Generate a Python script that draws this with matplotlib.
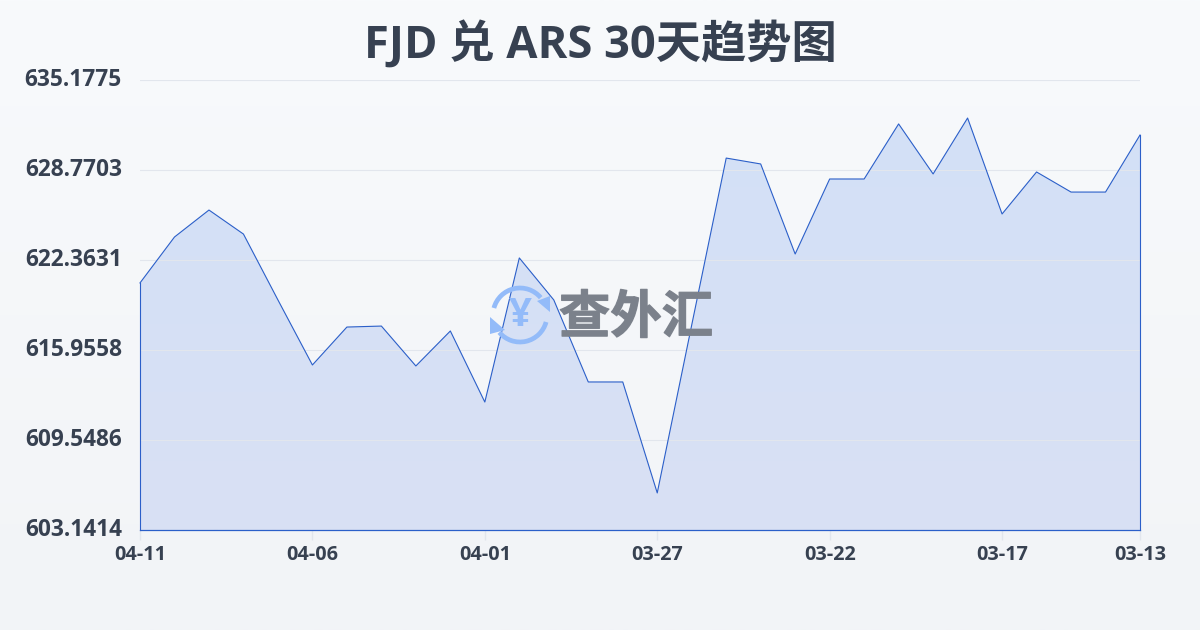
import numpy as np
import matplotlib
matplotlib.use("Agg")
import matplotlib.pyplot as plt
import matplotlib.patheffects as pe
from matplotlib.patches import Arc, Polygon

plt.rcParams['font.family'] = ['Open Sans', 'Noto Sans CJK SC', 'DejaVu Sans']

TITLE = "FJD 兑 ARS 30天趋势图"
dates = ['04-11', '04-06', '04-01', '03-27', '03-22', '03-17', '03-13']
date_pos = [0, 5, 10, 15, 20, 25, 29]
y_ticks = [603.1414, 609.5486, 615.9558, 622.3631, 628.7703, 635.1775]
rates = [620.73, 624.00, 625.92, 624.21, 619.52, 614.89, 617.59, 617.66, 614.82, 617.31,
         612.25, 622.51, 619.52, 613.68, 613.68, 605.78, 617.74, 629.62, 629.20, 622.79,
         628.13, 628.13, 632.05, 628.49, 632.47, 625.64, 628.63, 627.20, 627.20, 631.26]

W, H = 1200, 630
TEXT = '#374151'
LINE = '#2b5fc9'
GRID = '#e2e6ed'

fig = plt.figure(figsize=(W / 100, H / 100), dpi=100)

# page background gradient
bg = fig.add_axes([0, 0, 1, 1], zorder=0)
bg.imshow(np.linspace(0, 1, 256).reshape(-1, 1), aspect='auto', extent=[0, 1, 0, 1],
          cmap=matplotlib.colors.LinearSegmentedColormap.from_list('bg', ['#f8fafc', '#f2f4f7']))
bg.axis('off')

ax = fig.add_axes([140 / W, 1 - 530 / H, 1000 / W, 450 / H], zorder=1)
ax.patch.set_alpha(0)
x = np.arange(len(rates))

# area with a vertical gradient, clipped to the series
cmap = matplotlib.colors.LinearSegmentedColormap.from_list('area', ['#d3e0f7', '#d9e1f4'])
im = ax.imshow(np.linspace(0, 1, 256).reshape(-1, 1), aspect='auto', cmap=cmap, zorder=1,
               extent=[0, len(rates) - 1, y_ticks[0], max(rates)])
clip = Polygon(list(zip(x, rates)) + [(x[-1], y_ticks[0]), (x[0], y_ticks[0])],
               transform=ax.transData, fc='none', ec='none')
ax.add_patch(clip)
im.set_clip_path(clip)
ax.set_xlim(0, len(rates) - 1)
ax.set_ylim(y_ticks[0], y_ticks[-1])

ax.plot(x, rates, color=LINE, lw=0.8, zorder=3, clip_on=False)
ax.plot([x[0], x[0]], [y_ticks[0], rates[0]], color=LINE, lw=0.8, zorder=3, clip_on=False)
ax.plot([x[-1], x[-1]], [y_ticks[0], rates[-1]], color=LINE, lw=0.8, zorder=3, clip_on=False)
ax.plot([x[0], x[-1]], [y_ticks[0], y_ticks[0]], color=LINE, lw=0.9, zorder=3, clip_on=False)

for s in ax.spines.values():
    s.set_visible(False)
ax.set_yticks(y_ticks)
ax.set_yticklabels([f'{v:.4f}' for v in y_ticks], fontsize=16.3, fontweight='bold', color=TEXT)
ax.tick_params(axis='y', length=0, pad=13)
for lab in ax.get_yticklabels():
    lab.set_verticalalignment('center')
ax.set_xticks(date_pos)
ax.set_xticklabels(dates, fontsize=14.3, fontweight='bold', color=TEXT)
ax.tick_params(axis='x', length=7, width=1, color=GRID, pad=3.5)
ax.grid(axis='y', color=GRID, lw=0.8, zorder=2)
ax.set_axisbelow(False)

fig.text(0.5, 1 - 46 / H, TITLE, ha='center', va='center', fontsize=32.6, fontweight='bold', color=TEXT)

# watermark on a pixel-coordinate overlay
ov = fig.add_axes([0, 0, 1, 1], zorder=2)
ov.set_xlim(0, W)
ov.set_ylim(H, 0)
ov.axis('off')
ov.patch.set_alpha(0)
BLUE = '#93bbf9'
ov.add_patch(Arc((520, 315), 54, 54, theta1=195, theta2=320, color=BLUE, lw=3.4))
ov.add_patch(Arc((520, 315), 54, 54, theta1=15, theta2=140, color=BLUE, lw=3.4))
ov.add_patch(Polygon([(537, 301), (550, 296), (550, 312)], closed=True, fc=BLUE, ec='none'))
ov.add_patch(Polygon([(490, 317), (505, 330), (490, 334)], closed=True, fc=BLUE, ec='none'))
ov.text(520, 315, '¥', fontsize=29, fontweight='bold', color=BLUE, ha='center', va='center')
ov.text(636, 320, '查外汇', fontsize=37, fontweight='bold', color='#7b818b', alpha=0.92,
        ha='center', va='center',
        path_effects=[pe.withStroke(linewidth=0.9, foreground='#7b818b', alpha=0.92)])

fig.savefig('out.png', dpi=100)
